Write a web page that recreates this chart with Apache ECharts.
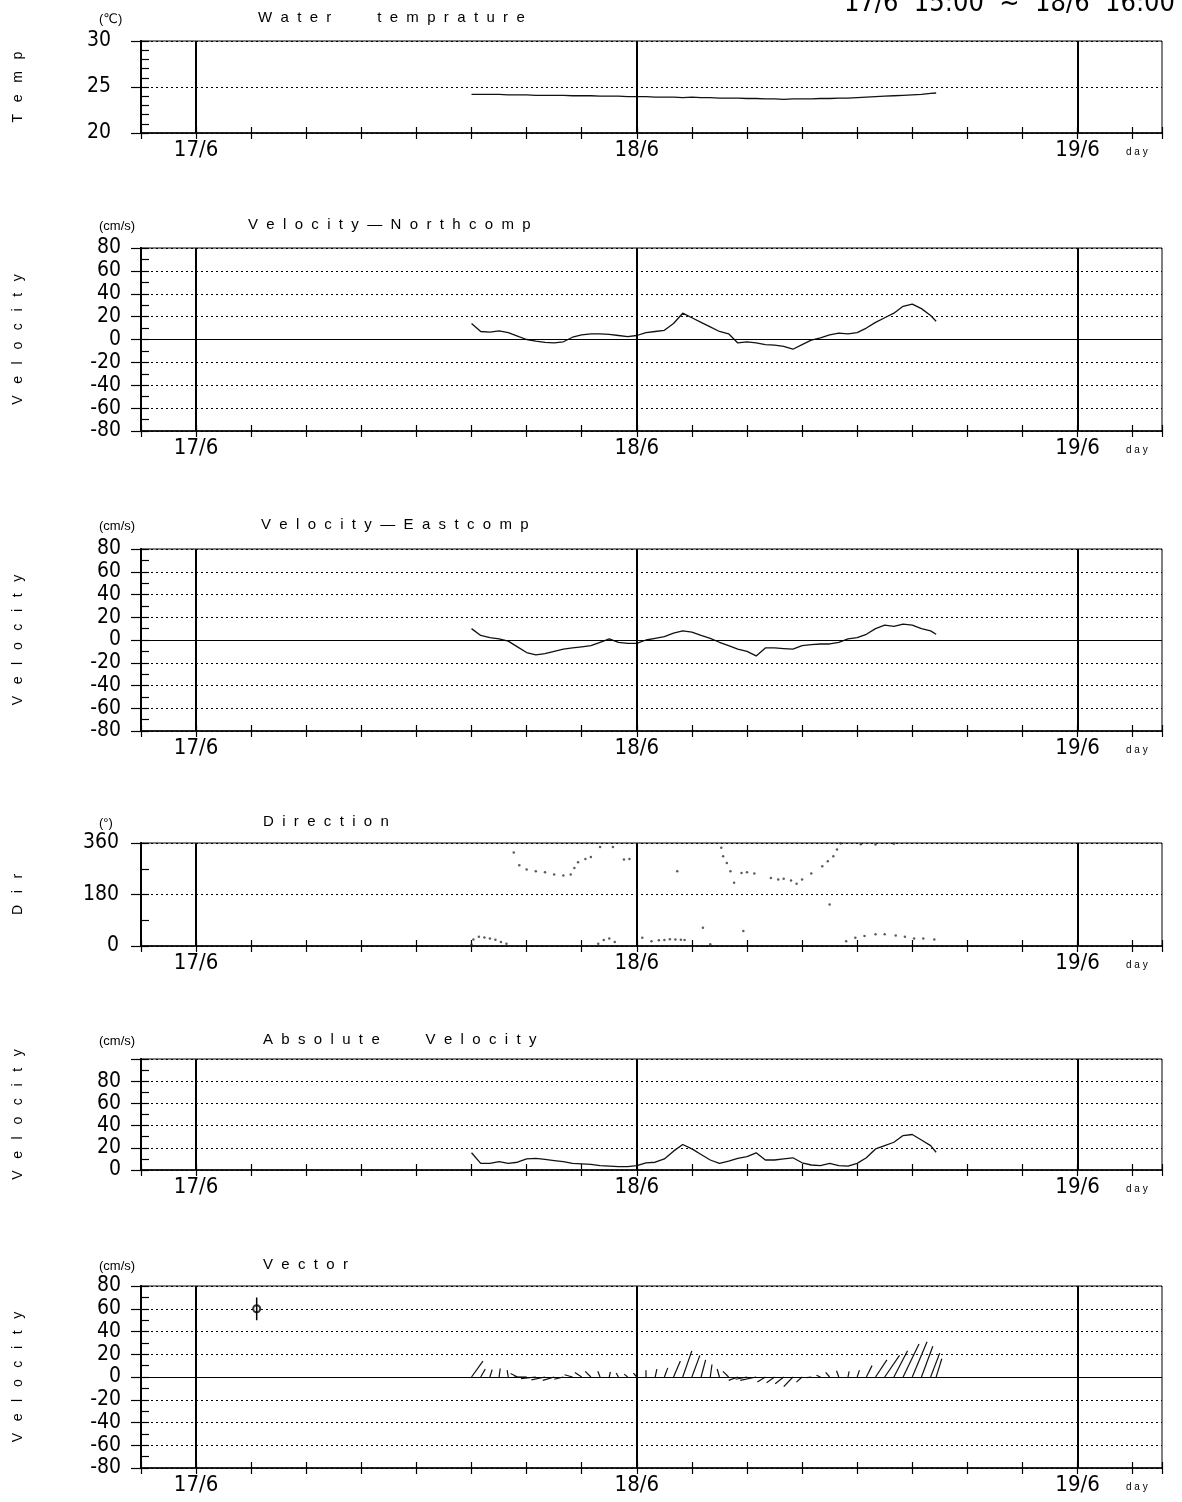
<!DOCTYPE html>
<html>
<head>
<meta charset="utf-8">
<script src="https://cdn.jsdelivr.net/npm/echarts@6/dist/echarts.min.js"></script>
<style>
  html, body { margin: 0; padding: 0; background: #fff; }
  #chart { width: 1182px; height: 1502px; }
</style>
</head>
<body>
<div id="chart"></div>
<script>
// time in hours counted from 17/6 00:00
const times = [15, 15.5, 16, 16.5, 17, 17.5, 18, 18.5, 19, 19.5,
  20, 20.5, 21, 21.5, 22, 22.5, 23, 23.5, 24, 24.5,
  25, 25.5, 26, 26.5, 27, 27.5, 28, 28.5, 29, 29.5,
  30, 30.5, 31, 31.5, 32, 32.5, 33, 33.5, 34, 34.5,
  35, 35.5, 36, 36.5, 37, 37.5, 38, 38.5, 39, 39.5,
  40, 40.3];

const tempValues = [24.2, 24.2, 24.2, 24.2, 24.15, 24.15, 24.15, 24.1, 24.1, 24.1,
  24.1, 24.05, 24.05, 24.05, 24.0, 24.0, 24.0, 23.95, 23.95, 23.95,
  23.9, 23.9, 23.9, 23.85, 23.9, 23.85, 23.85, 23.8, 23.8, 23.8,
  23.75, 23.75, 23.7, 23.7, 23.65, 23.7, 23.7, 23.7, 23.75, 23.75,
  23.8, 23.8, 23.85, 23.9, 23.95, 24.0, 24.05, 24.1, 24.15, 24.2,
  24.3, 24.35];

const northValues = [14, 7, 6.5, 7.5, 6, 3, 0, -1.5, -2.5, -3,
  -2, 2, 4, 5, 5, 4.5, 3.5, 2.5, 3.5, 6,
  7, 8, 14, 23, 19, 15, 11, 7, 5, -3,
  -2, -3, -4.5, -5, -6, -8.5, -4.5, -0.5, 1.5, 4,
  5.5, 5, 6, 10, 15, 19, 23, 29, 31, 27,
  21, 16];

const eastValues = [10, 4, 2, 1, -1, -6, -11, -13, -12, -10,
  -8, -7, -6, -5, -2, 1, -2, -3, -3, 0,
  1.5, 3, 6, 8, 7, 4, 1.5, -2, -5, -8,
  -10, -14, -7, -7, -7.5, -8, -5, -4, -3.5, -3.5,
  -2, 1, 2, 5, 10, 13, 12, 14, 13, 10,
  8, 5];

const absValues = [15.5, 6, 6, 7.5, 6, 7, 10, 10.5, 9.5, 8.5,
  7.5, 6, 5.5, 5, 4, 3.5, 3, 3, 4, 6.5,
  7, 10, 17, 23, 19, 14, 9, 6, 8, 10.5,
  12, 15.5, 9, 9, 10, 11, 6.5, 4.5, 4, 6,
  4, 3.5, 6, 11, 19, 22, 25, 31, 32, 27,
  22, 16];

const dirTimes = [15.0, 15.1, 15.4, 15.7, 16.0, 16.3, 16.6, 16.9,
  17.3, 17.6, 18.0, 18.5, 19.0, 19.5, 20.0, 20.4, 20.6, 20.8, 21.2, 21.5, 22.0, 22.7, 23.3, 23.6,
  21.9, 22.2, 22.5, 22.8,
  24.3, 24.8, 25.2, 25.5, 25.8, 26.1, 26.4, 26.6, 26.2, 27.6, 28.0,
  28.6, 28.7, 28.9, 29.1, 29.3, 29.7, 30.0, 30.4, 31.3, 31.7, 32.0, 32.4, 32.7, 33.0, 33.5, 34.1, 34.4, 34.7, 34.9, 35.1,
  29.8, 34.5,
  35.4, 35.9, 36.4, 37.0, 37.5, 38.1, 38.6, 39.1, 39.6, 40.2,
  36.2, 37.0, 38.0];
const dirValues = [5, 23, 32, 30, 26, 22, 14, 8,
  327, 282, 267, 261, 258, 250, 246, 250, 273, 293, 304, 311, 346, 346, 302, 304,
  8, 21, 26, 14,
  29, 17, 20, 21, 24, 23, 22, 21, 261, 64, 6,
  343, 314, 290, 261, 221, 255, 258, 253, 238, 232, 235, 229, 218, 232, 253, 279, 296, 314, 337, 358,
  52, 145,
  17, 29, 35, 41, 41, 37, 32, 26, 26, 23,
  356, 355, 357];

// vector scale mark (time, velocity, half length)
const vectorScaleMark = [3.3, 60, 10];

const dayTicks = [0, 24, 48];
const dayLabels = ['17/6', '18/6', '19/6'];

const panelTitles = ['Water   temprature', 'Velocity—Northcomp', 'Velocity—Eastcomp',
  'Direction', 'Absolute   Velocity', 'Vector'];
const panelUnits = ['(℃)', '(cm/s)', '(cm/s)', '(°)', '(cm/s)', '(cm/s)'];
const panelNames = ['Temp', 'Velocity', 'Velocity', 'Dir', 'Velocity', 'Velocity'];

const tempLabels = [20, 25, 30];
const velLabels = [-80, -60, -40, -20, 0, 20, 40, 60, 80];
const dirLabels = [0, 180, 360];
const absLabels = [0, 20, 40, 60, 80];

// layout of the six panels
const layout = [
  { top: 41, height: 92, min: 20, max: 30, major: 5, minor: 1, labels: tempLabels, labelMargin: 30, titleTop: 5, titleLeft: 253 },
  { top: 248, height: 183, min: -80, max: 80, major: 20, minor: 10, labels: velLabels, labelMargin: 20, titleTop: 212, titleLeft: 243 },
  { top: 549, height: 182, min: -80, max: 80, major: 20, minor: 10, labels: velLabels, labelMargin: 20, titleTop: 512, titleLeft: 256 },
  { top: 843, height: 103, min: 0, max: 360, major: 180, minor: 90, labels: dirLabels, labelMargin: 22, titleTop: 809, titleLeft: 258 },
  { top: 1059, height: 111, min: 0, max: 100, major: 20, minor: 10, labels: absLabels, labelMargin: 20, titleTop: 1027, titleLeft: 258 },
  { top: 1286, height: 182, min: -80, max: 80, major: 20, minor: 10, labels: velLabels, labelMargin: 20, titleTop: 1252, titleLeft: 258 }
];

const numFont = "'Liberation Sans Narrow', 'DejaVu Sans Condensed', sans-serif";
const textFont = "'Liberation Sans', 'DejaVu Sans', sans-serif";

function spaced(s, gap) {
  return s.split('').join(gap);
}

const grids = [];
const xAxes = [];
const yAxes = [];
const titles = [];

layout.forEach((p, i) => {
  grids.push({ left: 141, right: 20, top: p.top, height: p.height, show: true, borderColor: '#000', borderWidth: 1, backgroundColor: 'transparent' });
  [false, true].forEach(inside => {
    xAxes.push({
      type: 'value', gridIndex: i, position: 'bottom', min: -3, max: 52.6, interval: 3,
      axisLine: { show: !inside, onZero: false, lineStyle: { color: '#000', width: 1.5 } },
      axisTick: { show: true, inside: inside, length: 6, lineStyle: { color: '#000', width: 1.2 } },
      axisLabel: {
        show: !inside, margin: 6, color: '#000', fontSize: 22, fontFamily: numFont,
        formatter: v => { const k = dayTicks.indexOf(v); return k >= 0 ? dayLabels[k] : ''; }
      },
      splitLine: { show: false },
      name: inside ? '' : 'd a y', nameLocation: 'end', nameGap: -36,
      nameTextStyle: { color: '#000', fontSize: 10, fontFamily: textFont, verticalAlign: 'top', padding: [14, 0, 0, 0] }
    });
    yAxes.push({
      type: 'value', gridIndex: i, position: 'left', min: p.min, max: p.max, interval: inside ? p.minor : p.major,
      axisLine: { show: true, onZero: false, lineStyle: { color: '#000', width: 2 } },
      axisTick: { show: true, inside: inside, length: inside ? 8 : 10, lineStyle: { color: '#000', width: 1.2 } },
      axisLabel: {
        show: !inside, margin: p.labelMargin, color: '#000', fontSize: 21, fontFamily: numFont,
        formatter: v => p.labels.indexOf(v) >= 0 ? String(v) : ''
      },
      splitLine: { show: !inside, lineStyle: { color: '#000', width: 1, type: [2, 3] } },
      name: inside ? '' : spaced(panelNames[i], '   '), nameLocation: 'middle', nameGap: 116, nameRotate: 90,
      nameTextStyle: { color: '#000', fontSize: 14, fontFamily: textFont }
    });
  });
  titles.push({
    text: spaced(panelTitles[i], '  '), left: p.titleLeft, top: p.titleTop,
    textStyle: { color: '#000', fontSize: 15, fontWeight: 'normal', fontFamily: textFont }
  });
  titles.push({
    text: panelUnits[i], left: 94, top: p.titleTop + 3,
    textStyle: { color: '#000', fontSize: 13, fontWeight: 'normal', fontFamily: textFont }
  });
});

titles.push({
  text: '17/6  15:00  ~  18/6  16:00', right: 2, top: -15,
  textStyle: { color: '#000', fontSize: 27, fontWeight: 'normal', fontFamily: numFont }
});

function dayLines(withZero) {
  const data = dayTicks.map(d => ({ xAxis: d }));
  if (withZero) data.push({ yAxis: 0, lineStyle: { width: 1.2 } });
  return {
    silent: true, symbol: ['none', 'none'], label: { show: false },
    lineStyle: { color: '#000', width: 2, type: 'solid' },
    data: data
  };
}

function lineSeries(i, values, withZero) {
  return {
    type: 'line', xAxisIndex: i * 2, yAxisIndex: i * 2,
    data: times.map((t, k) => [t, values[k]]),
    showSymbol: false, symbol: 'none',
    lineStyle: { color: '#111', width: 1.3 },
    markLine: dayLines(withZero)
  };
}

const series = [
  lineSeries(0, tempValues, false),
  lineSeries(1, northValues, true),
  lineSeries(2, eastValues, true),
  {
    type: 'scatter', xAxisIndex: 6, yAxisIndex: 6,
    data: dirTimes.map((t, k) => [t, dirValues[k]]),
    symbol: 'circle', symbolSize: 2.5, itemStyle: { color: '#333' },
    markLine: dayLines(false)
  },
  lineSeries(4, absValues, false),
  {
    type: 'custom', xAxisIndex: 10, yAxisIndex: 10,
    data: times.map((t, k) => [t, northValues[k], eastValues[k]]),
    renderItem: function (params, api) {
      const t = api.value(0);
      const n = api.value(1);
      const e = api.value(2);
      const p0 = api.coord([t, 0]);
      const p1 = api.coord([t, n]);
      const unit = Math.abs(api.size([0, 1])[1]);
      return {
        type: 'line',
        shape: { x1: p0[0], y1: p0[1], x2: p0[0] + e * unit, y2: p1[1] },
        style: { stroke: '#111', lineWidth: 1.2 }
      };
    }
  },
  {
    type: 'line', xAxisIndex: 10, yAxisIndex: 10,
    data: [[vectorScaleMark[0], vectorScaleMark[1] - vectorScaleMark[2]], [vectorScaleMark[0], vectorScaleMark[1] + vectorScaleMark[2]]],
    symbol: 'none', lineStyle: { color: '#000', width: 1.5 },
    markLine: dayLines(true)
  },
  {
    type: 'scatter', xAxisIndex: 10, yAxisIndex: 10,
    data: [[vectorScaleMark[0], vectorScaleMark[1]]],
    symbol: 'emptyCircle', symbolSize: 7, itemStyle: { color: '#000', borderColor: '#000', borderWidth: 1.5 }
  }
];

const chart = echarts.init(document.getElementById('chart'));
chart.setOption({
  backgroundColor: '#fff',
  animation: false,
  title: titles,
  grid: grids,
  xAxis: xAxes,
  yAxis: yAxes,
  series: series
});
</script>
</body>
</html>
